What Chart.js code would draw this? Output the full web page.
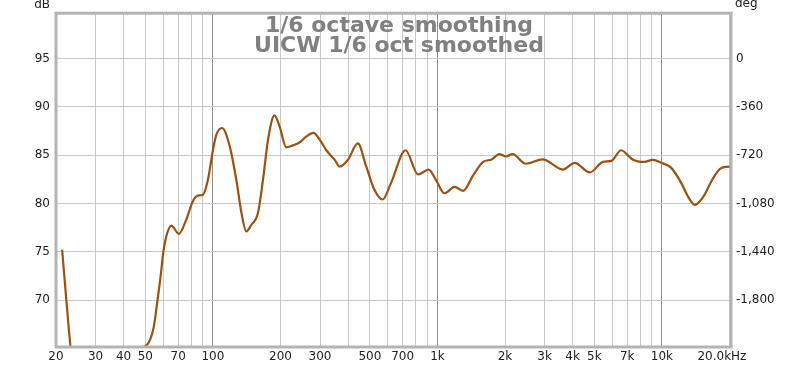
<!DOCTYPE html>
<html>
<head>
<meta charset="utf-8">
<script src="https://cdn.jsdelivr.net/npm/chart.js@4/dist/chart.umd.min.js"></script>
<style>
  html, body { margin: 0; padding: 0; background: #fff; }
  #wrap { width: 800px; height: 367px; }
</style>
</head>
<body>
<div id="wrap"><canvas id="myChart" width="800" height="367"></canvas></div>
<script>
'use strict';

// frequency response (Hz, dB)
const freqHz = [21.3, 22.2, 23.2, 24.5, 30, 45, 47, 49.6, 51, 52.5, 54.5, 56.5, 58.5, 60, 62, 65.3,
  70.5, 76, 81.3, 85.6, 90.2, 94.9, 100, 103.5, 109.8, 118.8, 127.2, 134, 140.8, 148.5, 158.7,
  167, 176, 188, 198.5, 212, 227, 243, 260, 280, 299, 320, 349, 367, 399, 442, 482, 524, 570,
  621, 721, 820, 914, 986, 1074, 1193, 1300, 1442, 1598, 1744, 1886, 2020, 2160, 2476, 2940,
  3620, 4090, 4770, 5460, 5950, 6580, 7110, 7400, 8340, 9090, 10050, 10970, 12200, 13070,
  14000, 15300, 16700, 18200, 19800, 20300];
const splDb = [75.2, 70.2, 65.2, 61, 58, 58, 64.0, 65.2, 65.4, 65.9, 67.2, 69.8, 72.5, 74.8, 76.6, 77.7,
  76.85, 78.3, 80.2, 80.8, 80.9, 82.4, 85.5, 87.1, 87.8, 85.9, 82.4, 79.0, 77.1, 77.8, 79.0,
  82.4, 86.6, 89.1, 87.9, 85.8, 86.0, 86.3, 86.9, 87.3, 86.6, 85.5, 84.5, 83.8, 84.5, 86.2, 83.8, 81.4, 80.4,
  82.1, 85.5, 83.0, 83.5, 82.4, 81.05, 81.7, 81.3, 82.9, 84.3, 84.55, 85.1, 84.85, 85.1, 84.1, 84.55,
  83.5, 84.2, 83.2, 84.3, 84.4, 85.5, 84.9, 84.55, 84.3, 84.5, 84.15, 83.7, 82.1, 80.7,
  79.85, 80.7, 82.4, 83.6, 83.8, 83.7];

// axes
const xGridHz = [20, 30, 40, 50, 60, 70, 80, 90, 100, 200, 300, 400, 500, 600, 700, 800, 900,
  1000, 2000, 3000, 4000, 5000, 6000, 7000, 8000, 9000, 10000, 20000];
const xLabels = { 20: '20', 30: '30', 40: '40', 50: '50', 70: '70', 100: '100', 200: '200', 300: '300',
  500: '500', 700: '700', 1000: '1k', 2000: '2k', 3000: '3k', 4000: '4k', 5000: '5k', 7000: '7k',
  10000: '10k', 20000: '20.0kHz    ' };
const dbTicks = [70, 75, 80, 85, 90, 95];
const degTicks = [0, -360, -720, -1080, -1440, -1800];
const titleLines = ['1/6 octave smoothing', 'UICW 1/6 oct smoothed'];

const FONT = 'DejaVu Sans';
const points = freqHz.map(function (f, i) { return { x: f, y: splDb[i] }; });

const decoPlugin = {
  id: 'deco',
  afterDatasetsDraw: function (chart) {
    const ctx = chart.ctx, a = chart.chartArea;
    ctx.save();
    ctx.strokeStyle = '#b4b4b4';
    ctx.lineWidth = 3;
    ctx.strokeRect(a.left, a.top, a.right - a.left, a.bottom - a.top);
    ctx.fillStyle = '#808080';
    ctx.font = 'bold 22px "' + FONT + '"';
    ctx.textAlign = 'center';
    ctx.textBaseline = 'alphabetic';
    ctx.fillText(titleLines[0], 399, 32);
    ctx.fillText(titleLines[1], 399, 52);
    ctx.fillStyle = '#222';
    ctx.font = '12px "' + FONT + '"';
    ctx.textAlign = 'right';
    ctx.fillText('dB', 50, 8);
    ctx.textAlign = 'left';
    ctx.fillText('deg', 735, 7);
    ctx.restore();
  }
};

new Chart(document.getElementById('myChart'), {
  type: 'line',
  data: {
    datasets: [{
      data: points,
      borderColor: '#9a5214',
      borderWidth: 2.2,
      pointRadius: 0,
      cubicInterpolationMode: 'monotone',
      clip: 0
    }]
  },
  options: {
    responsive: false,
    animation: false,
    layout: { padding: { top: 13, left: 0, right: 0, bottom: 0 } },
    plugins: { legend: { display: false }, tooltip: { enabled: false }, title: { display: false } },
    scales: {
      x: {
        type: 'logarithmic',
        min: 20,
        max: 20300,
        afterBuildTicks: function (s) { s.ticks = xGridHz.map(function (v) { return { value: v }; }); },
        afterFit: function (s) { s.height = 20; },
        border: { display: false },
        grid: {
          drawTicks: false,
          color: function (c) {
            const v = c.tick && c.tick.value;
            return (v === 100 || v === 1000 || v === 10000) ? '#8c8c8c' : '#c8c8c8';
          },
          lineWidth: 1
        },
        ticks: {
          autoSkip: false,
          maxRotation: 0,
          padding: 3,
          color: '#222',
          font: { family: FONT, size: 12 },
          callback: function (v) { return xLabels[v] !== undefined ? xLabels[v] : ''; }
        }
      },
      y: {
        position: 'left',
        min: 65.14,
        max: 99.68,
        afterBuildTicks: function (s) { s.ticks = dbTicks.map(function (v) { return { value: v }; }); },
        afterFit: function (s) { s.width = 56; },
        border: { display: false },
        grid: { drawTicks: false, color: '#c8c8c8' },
        ticks: { padding: 6, color: '#222', font: { family: FONT, size: 12 } }
      },
      y2: {
        position: 'right',
        min: -2150,
        max: 337,
        afterBuildTicks: function (s) { s.ticks = degTicks.map(function (v) { return { value: v }; }); },
        afterFit: function (s) { s.width = 69; },
        border: { display: false },
        grid: { drawOnChartArea: false, drawTicks: false },
        ticks: {
          padding: 5,
          color: '#222',
          font: { family: FONT, size: 12 },
          callback: function (v) { return v.toLocaleString('en-US'); }
        }
      }
    }
  },
  plugins: [decoPlugin]
});
</script>
</body>
</html>
